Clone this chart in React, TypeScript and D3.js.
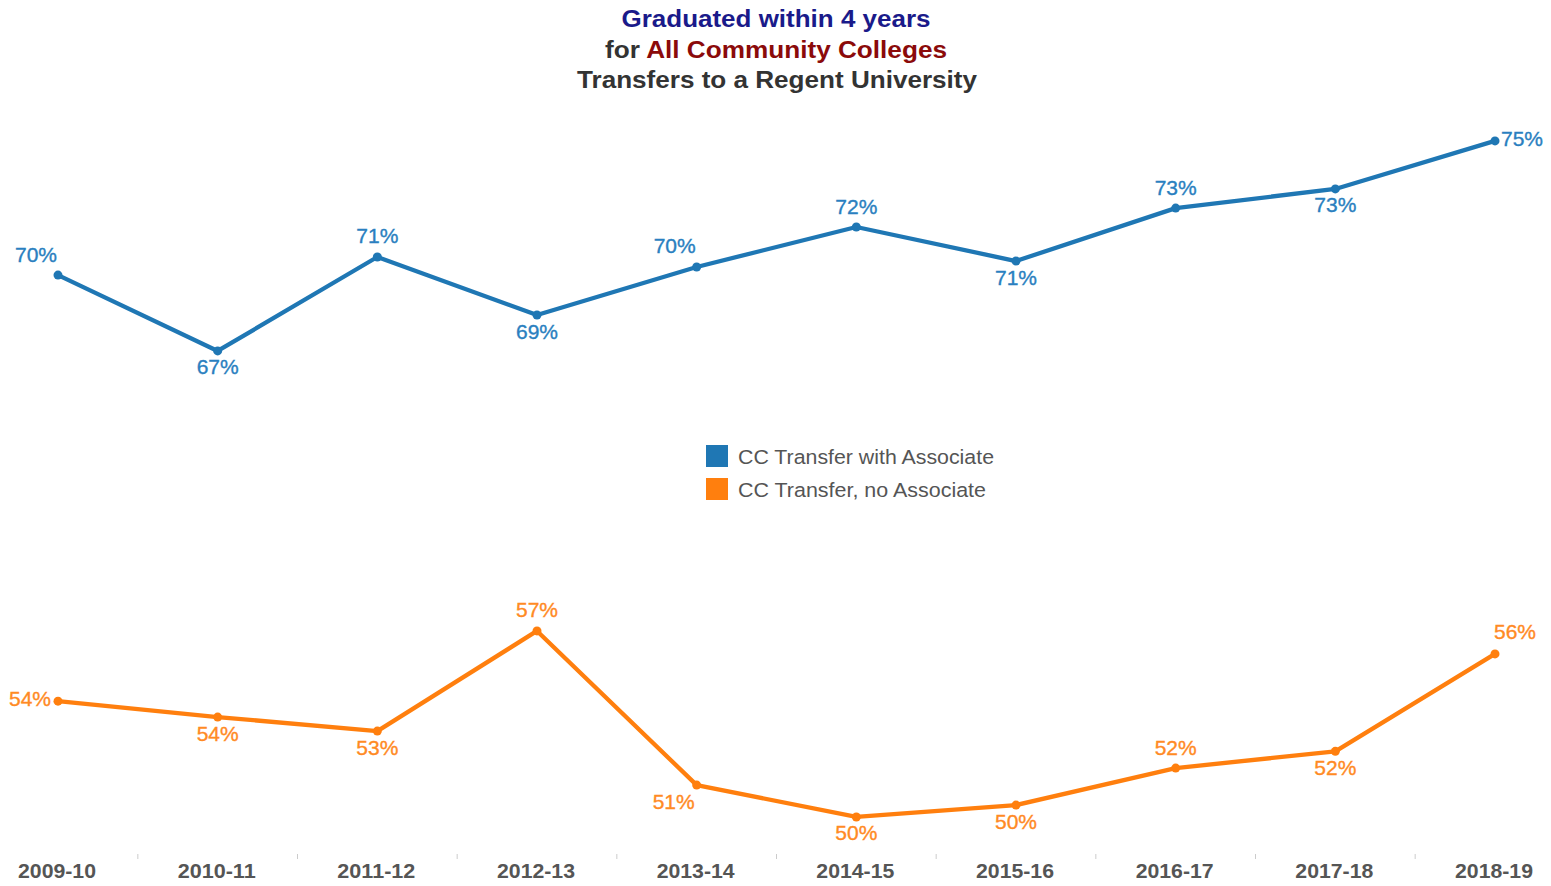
import React from "react";
import * as d3 from "d3";

const years = ["2009-10","2010-11","2011-12","2012-13","2013-14","2014-15","2015-16","2016-17","2017-18","2018-19"];
const withAssociate = [70.09, 67.28, 70.76, 68.61, 70.39, 71.87, 70.61, 72.57, 73.28, 75.06];
const noAssociate = [54.31, 53.72, 53.2, 56.91, 51.2, 50.02, 50.46, 51.83, 52.45, 56.06];
const withLabelPos = ["aboveLeft","below","above","below","aboveLeft","above","below","above","below","right"];
const noLabelPos = ["left","below","below","above","belowLeft","below","below","above","below","aboveRight"];
const seriesNames = ["CC Transfer with Associate", "CC Transfer, no Associate"];

const BLUE = "#1f77b4";
const ORANGE = "#ff7f0e";
const FONT = "'Liberation Sans', Arial, sans-serif";

const offsets: Record<string, [number, number]> = {
  above: [0, -21],
  below: [0, 16],
  aboveLeft: [-22, -21],
  belowLeft: [-23, 16],
  left: [-28, -3],
  right: [27, -2],
  aboveRight: [20, -22],
};

export default function App() {
  const W = 1551, H = 886;
  const x = d3.scalePoint<string>().domain(years).range([58, 1495]);
  const y = d3.scaleLinear().domain([48.5, 77]).range([858, 88.5]);
  const line = d3.line<number>().x((_, i) => x(years[i])!).y((d) => y(d));

  const series = [
    { name: seriesNames[0], values: withAssociate, pos: withLabelPos, color: BLUE, label: "#2a7fc0" },
    { name: seriesNames[1], values: noAssociate, pos: noLabelPos, color: ORANGE, label: "#ff8a24" },
  ];
  const step = x.step();
  const tickXs = years.slice(1).map((yr) => x(yr)! - step / 2);

  return (
    <svg width={W} height={H} style={{ position: "fixed", left: 0, top: 0, background: "#fff" }} fontFamily={FONT}>
      <g textAnchor="middle" fontWeight="bold" fontSize={23.5}>
        <text x={776} y={27} fill="#1a1a8a" textLength={309} lengthAdjust="spacingAndGlyphs">Graduated within 4 years</text>
        <text x={776} y={58} textLength={342} lengthAdjust="spacingAndGlyphs">
          <tspan fill="#333">for </tspan>
          <tspan fill="#8b0a0a">All Community Colleges</tspan>
        </text>
        <text x={777} y={88} fill="#333" textLength={400} lengthAdjust="spacingAndGlyphs">Transfers to a Regent University</text>
      </g>

      {series.map((s) => (
        <g key={s.name}>
          <path d={line(s.values)!} fill="none" stroke={s.color} strokeWidth={4.3} strokeLinejoin="round" />
          {s.values.map((v, i) => (
            <circle key={i} cx={x(years[i])!} cy={y(v)} r={4.5} fill={s.color} />
          ))}
          {s.values.map((v, i) => {
            const [dx, dy] = offsets[s.pos[i]];
            return (
              <text key={"l" + i} x={x(years[i])! + dx} y={y(v) + dy} textAnchor="middle" dominantBaseline="central"
                fontSize={21} fill={s.label} stroke={s.label} strokeWidth={0.35}>
                {`${d3.format(".0f")(v)}%`}
              </text>
            );
          })}
        </g>
      ))}

      <g>
        {series.map((s, i) => (
          <g key={s.name} transform={`translate(706,${445 + i * 33})`}>
            <rect width={22} height={22} fill={s.color} />
            <text x={32} y={11} dominantBaseline="central" fontSize={20.5} fill="#555"
              textLength={i === 0 ? 256 : 248} lengthAdjust="spacingAndGlyphs">{s.name}</text>
          </g>
        ))}
      </g>

      <g>
        {tickXs.map((tx, i) => (
          <line key={i} x1={tx} x2={tx} y1={854} y2={859} stroke="#ccc" strokeWidth={1} />
        ))}
        {years.map((yr) => (
          <text key={yr} x={x(yr)! - 1} y={870} textAnchor="middle" dominantBaseline="central" fontSize={21}
            fontWeight="bold" fill="#555" textLength={78} lengthAdjust="spacingAndGlyphs">{yr}</text>
        ))}
      </g>
    </svg>
  );
}
